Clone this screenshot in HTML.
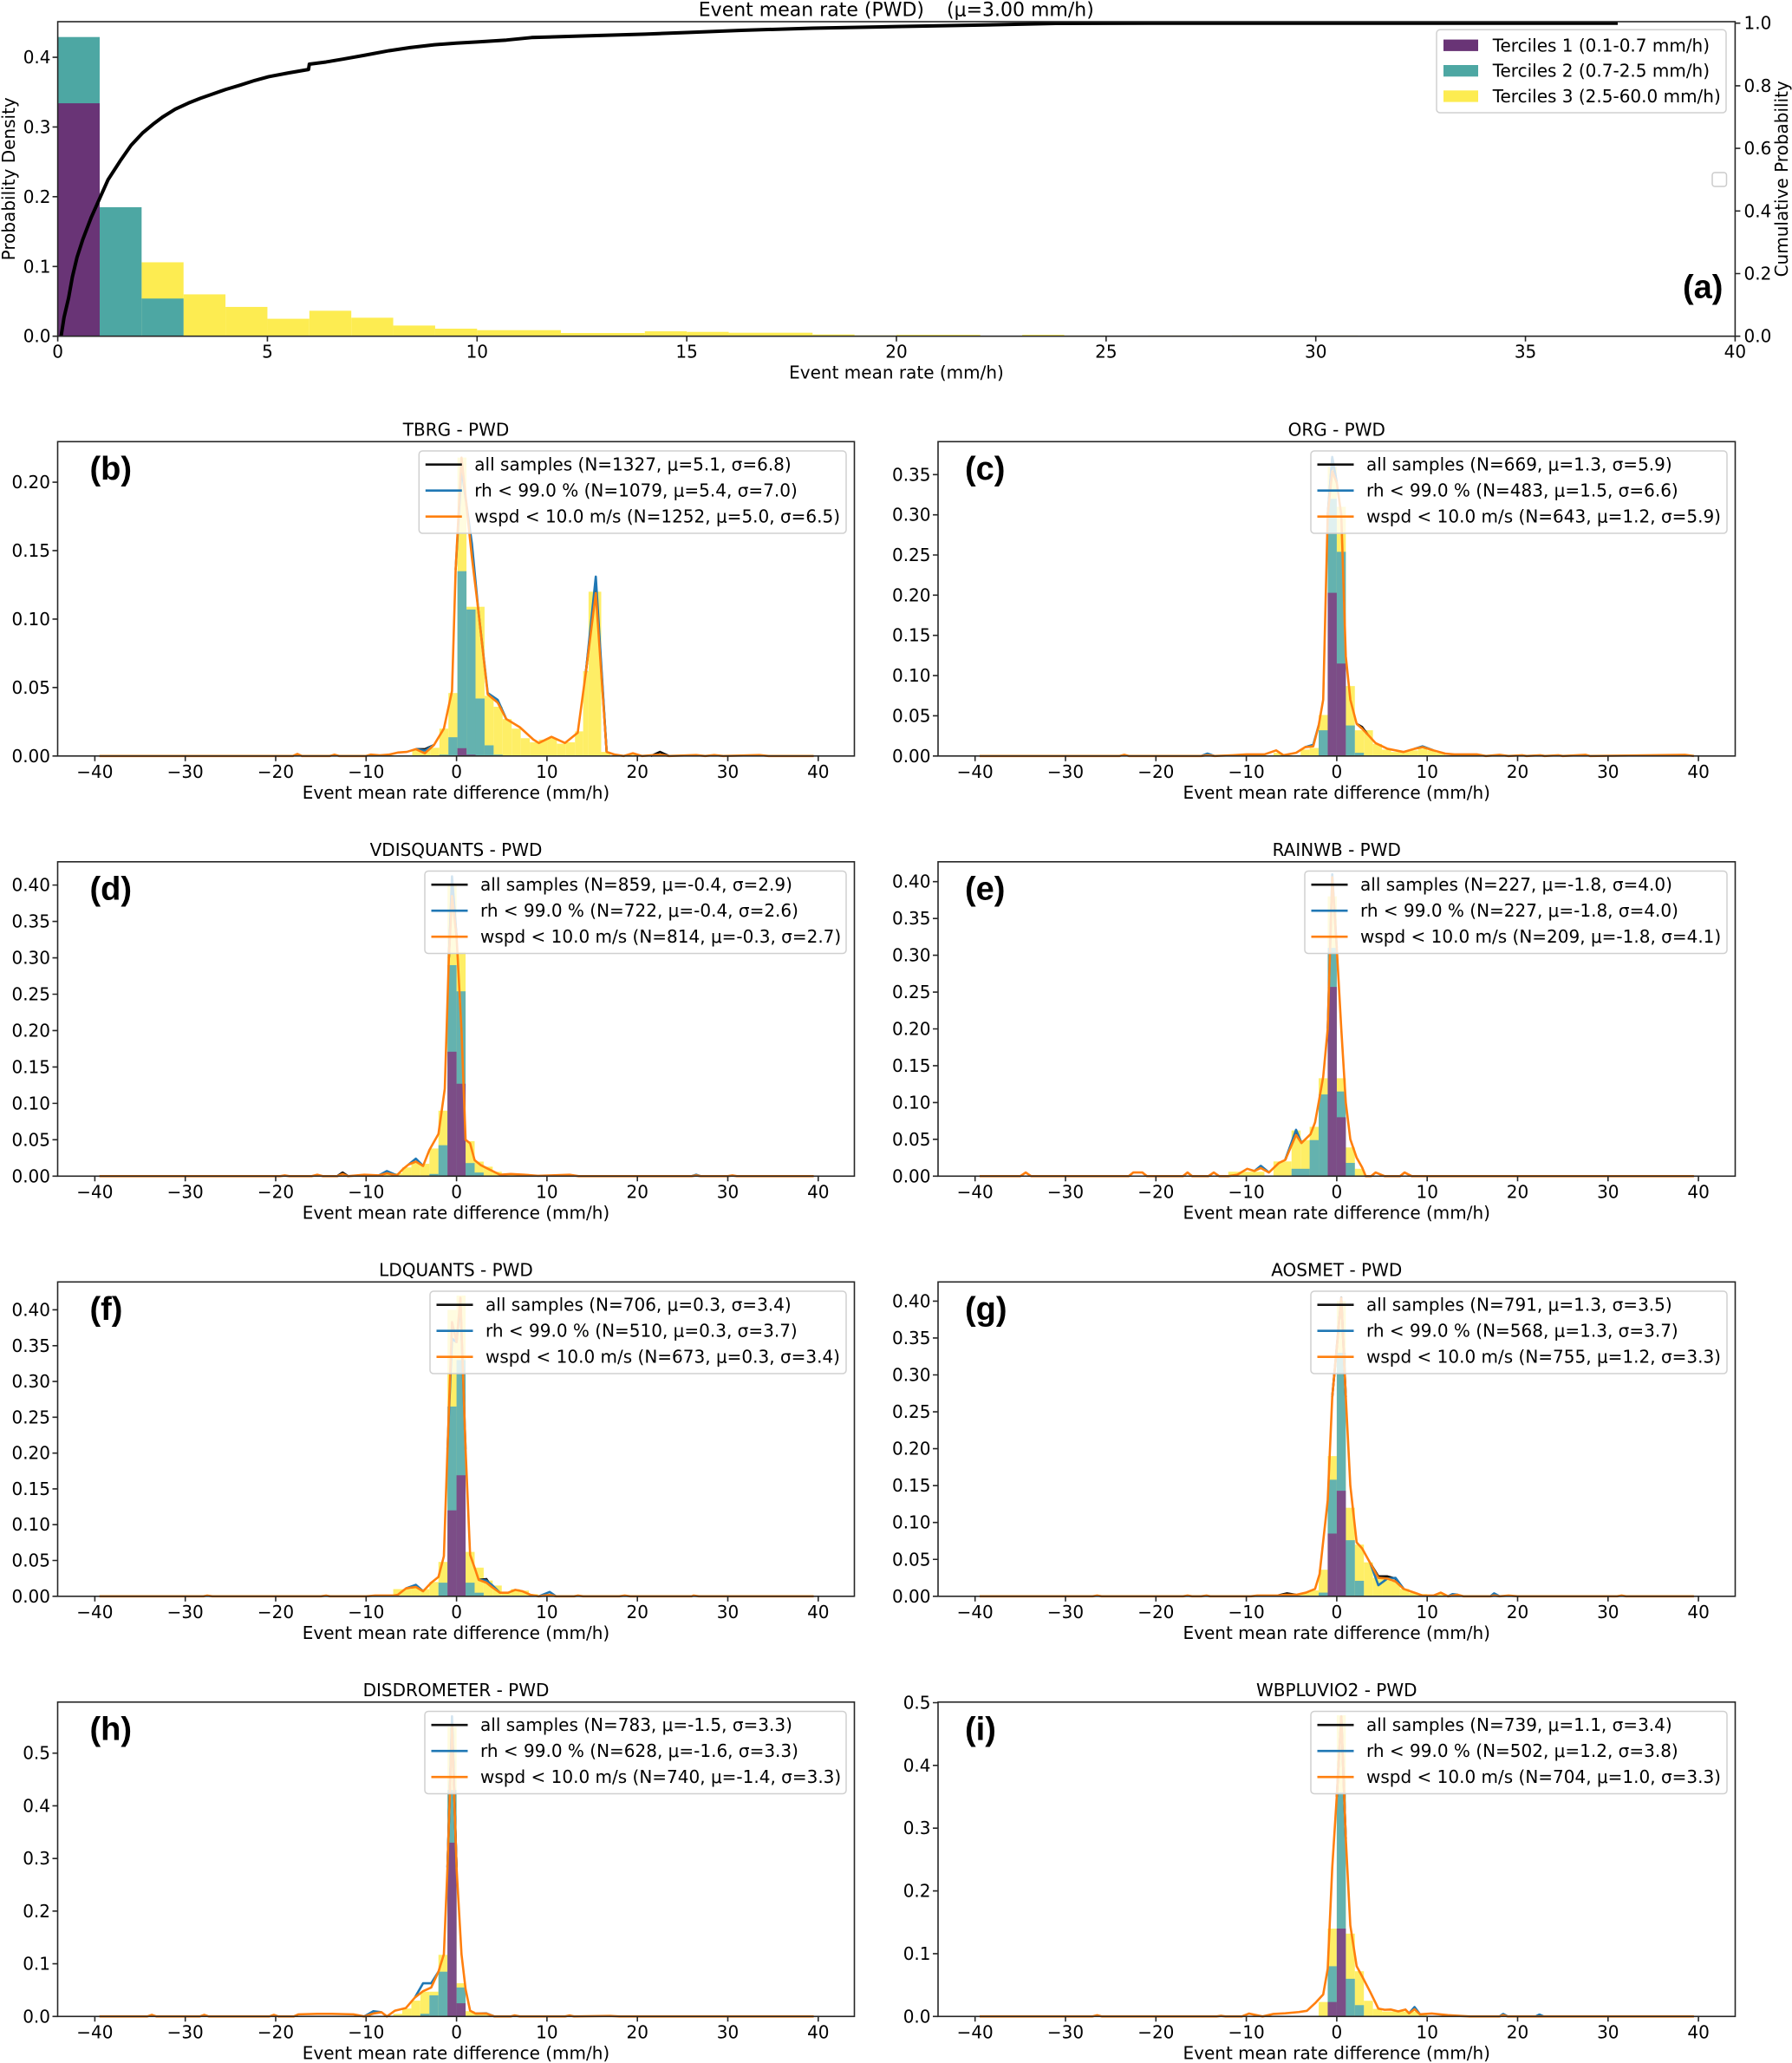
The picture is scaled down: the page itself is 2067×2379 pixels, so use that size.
<!DOCTYPE html>
<html><head><meta charset="utf-8"><title>Event mean rate</title><style>
html,body{margin:0;padding:0;background:#fff}
svg{display:block}
text{font-family:"DejaVu Sans","Liberation Sans",sans-serif;font-size:20px;fill:#000}
.tl{font-size:22px}
.lab{font-family:"Liberation Sans","DejaVu Sans",sans-serif;font-weight:bold;font-size:38px}
.ln{fill:none;vector-effect:non-scaling-stroke;stroke-width:2.6;stroke-linejoin:round}
.cdf{fill:none;vector-effect:non-scaling-stroke;stroke-width:4;stroke:#000;stroke-linejoin:round}
.sp{fill:none;stroke:#262626;stroke-width:1.6}
.tk{stroke:#262626;stroke-width:1.6;fill:none}
.y rect{fill:#FEEE66}.t rect{fill:#64B2AF}.p rect{fill:#7C4D87}
.Y rect{fill:#FDEC51}.T rect{fill:#4DA7A3}.P rect{fill:#693476}
.lg{fill:#fff;fill-opacity:0.8;stroke:#d0d0d0;stroke-width:1.5}
.e text,text.e{text-anchor:end}.m text,text.m{text-anchor:middle}
.k{stroke:#111}.b{stroke:#1f77b4}.o{stroke:#ff7f0e}
.lh{stroke-width:2.6}
</style></head><body>
<svg width="2067" height="2379" viewBox="0 0 2067 2379" xmlns="http://www.w3.org/2000/svg">

<!-- ================= (a) ================= -->
<g transform="translate(66.6,387.7) scale(48.37,-804.2)">
<g class="Y"><rect x="2" width="1" height=".106"/><rect x="3" width="1" height=".060"/><rect x="4" width="1" height=".042"/><rect x="5" width="1" height=".025"/><rect x="6" width="1" height=".0365"/><rect x="7" width="1" height=".0265"/><rect x="8" width="1" height=".0153"/><rect x="9" width="1" height=".0108"/><rect x="10" width="2" height=".0087"/><rect x="12" width="2" height=".0046"/><rect x="14" width="1" height=".007"/><rect x="15" width="1" height=".0062"/><rect x="16" width="2" height=".005"/><rect x="18" width="1" height=".0025"/><rect x="19" width="1" height=".0012"/><rect x="20" width="2" height=".002"/><rect x="23" width="1" height=".002"/><rect x="24" width="1" height=".001"/><rect x="26" width="1" height=".001"/><rect x="28" width="3" height=".001"/></g>
<g class="T"><rect x="0" width="1" height=".429"/><rect x="1" width="1" height=".185"/><rect x="2" width="1" height=".054"/></g>
<g class="P"><rect x="0" width="1" height=".334"/></g>
</g>
<g transform="translate(66.6,387.7) scale(48.37,-361)">
<polyline class="cdf" points="0.08,0 0.15,0.06 0.26,0.123 0.35,0.19 0.46,0.252 0.6,0.31 0.8,0.38 1,0.44 1.2,0.5 1.49,0.56 1.75,0.61 2.03,0.65 2.3,0.68 2.5,0.70 2.8,0.725 3.12,0.745 3.4,0.76 3.66,0.772 4,0.788 4.35,0.802 4.7,0.817 5.03,0.829 5.5,0.841 5.98,0.852 6,0.869 6.4,0.876 6.8,0.885 7.3,0.897 7.9,0.912 8.4,0.922 8.98,0.931 9.5,0.936 10,0.94 10.7,0.946 11.3,0.954 12.5,0.959 14,0.965 15,0.97 16.3,0.977 18,0.984 20,0.989 22,0.994 23.8,0.999 26,1 37.2,1"/>
</g>
<rect class="sp" x="66.6" y="25" width="1934.8" height="362.7"/>
<path class="tk" d="M66.6 387.7v6M308.45 387.7v6M550.3 387.7v6M792.15 387.7v6M1034 387.7v6M1275.85 387.7v6M1517.7 387.7v6M1759.55 387.7v6M2001.4 387.7v6M66.6 387.7h-6M66.6 307.28h-6M66.6 226.86h-6M66.6 146.44h-6M66.6 66.02h-6M2001.4 387.7h6M2001.4 315.5h6M2001.4 243.3h6M2001.4 171.1h6M2001.4 98.9h6M2001.4 26.7h6"/>
<g class="m" transform="translate(0,412.7)"><text x="66.6">0</text><text x="308.45">5</text><text x="550.3">10</text><text x="792.15">15</text><text x="1034">20</text><text x="1275.85">25</text><text x="1517.7">30</text><text x="1759.55">35</text><text x="2001.4">40</text></g>
<g class="e"><text x="58.5" y="394.7">0.0</text><text x="58.5" y="314.28">0.1</text><text x="58.5" y="233.86">0.2</text><text x="58.5" y="153.44">0.3</text><text x="58.5" y="73.02">0.4</text></g>
<g><text x="2011.5" y="394.7">0.0</text><text x="2011.5" y="322.5">0.2</text><text x="2011.5" y="250.3">0.4</text><text x="2011.5" y="178.1">0.6</text><text x="2011.5" y="105.9">0.8</text><text x="2011.5" y="33.7">1.0</text></g>
<text class="tl e" x="1066" y="18.3">Event mean rate (PWD)</text>
<text class="tl" x="1092" y="18.3">(μ=3.00 mm/h)</text>
<text class="m" x="1034" y="436.7">Event mean rate (mm/h)</text>
<text class="m" transform="translate(10,206.3) rotate(-90)" dominant-baseline="central">Probability Density</text>
<text class="m" transform="translate(2055,206.3) rotate(-90)" dominant-baseline="central">Cumulative Probability</text>
<rect class="lg" x="1657" y="34.3" width="334" height="95.7" rx="4"/>
<rect x="1665" y="45.6" width="40" height="13.3" fill="#693476"/>
<rect x="1665" y="75" width="40" height="13.3" fill="#4DA7A3"/>
<rect x="1665" y="104.3" width="40" height="13.3" fill="#FDEC51"/>
<text x="1721.7" y="59.3">Terciles 1 (0.1-0.7 mm/h)</text>
<text x="1721.7" y="88.7">Terciles 2 (0.7-2.5 mm/h)</text>
<text x="1721.7" y="118">Terciles 3 (2.5-60.0 mm/h)</text>
<rect x="1975" y="199" width="16.5" height="16" rx="3" fill="#fff" stroke="#cccccc" stroke-width="1.5"/>
<text class="lab" x="1941" y="343.7">(a)</text>

<!-- ================= (b) ================= -->
<g transform="translate(526.6,871.8) scale(10.43,-1578.8)">
<g class="y"><rect x="-4.9" width="1" height=".004"/><rect x="-3.9" width="1" height=".005"/><rect x="-2.9" width="1" height=".006"/><rect x="-1.9" width="1" height=".02"/><rect x="-0.9" width="1" height=".046"/><rect x="0.1" width="1" height=".218"/><rect x="1.1" width="1" height=".109"/><rect x="2.1" width="1" height=".109"/><rect x="3.1" width="1" height=".044"/><rect x="4.1" width="1" height=".036"/><rect x="5.1" width="1" height=".027"/><rect x="6.1" width="1" height=".02"/><rect x="7.1" width="1" height=".013"/><rect x="8.1" width="1" height=".01"/><rect x="9.1" width="1" height=".012"/><rect x="10.1" width="1" height=".013"/><rect x="11.1" width="1" height=".009"/><rect x="12.1" width="1" height=".01"/><rect x="13.1" width="0.9" height=".018"/><rect x="14" width="0.6" height=".062"/><rect x="14.6" width="1.4" height=".12"/><rect x="16" width="1" height=".003"/><rect x="19.1" width="1" height=".001"/></g>
<g class="t"><rect x="-1.9" width="1" height=".001"/><rect x="-0.9" width="1" height=".0137"/><rect x="0.1" width="1" height=".135"/><rect x="1.1" width="1" height=".107"/><rect x="2.1" width="1" height=".042"/><rect x="3.1" width="1" height=".0078"/><rect x="4.1" width="1" height=".001"/></g>
<g class="p"><rect x="0.1" width="1" height=".0057"/><rect x="1.1" width="1" height=".001"/></g>
<polyline class="ln k" points="-4.5,0.005 -3.5,0.005 -2.5,0.008"/>
<polyline class="ln k" points="21.5,0 22.5,0.003 23.5,0"/>
<polyline class="ln k" points="14.3,0.061 15.4,0.125 16.6,0.003"/>
<polyline class="ln b" points="-4.5,0.005 -3.5,0.004 -2.5,0.008"/>
<polyline class="ln b" points="-0.1,0.136 0.55,0.21 1.7,0.155 2.4,0.107 3.45,0.046 4.55,0.041 5.5,0.027"/>
<polyline class="ln b" points="14.3,0.061 15.4,0.131 16.6,0.003"/>
<polyline class="ln o" points="-39.5,0 -18.1,0 -17.6,0.0015 -17.1,0 -14,0 -13.5,0.001 -13,0 -10,0 -9.5,0.001 -8.5,0.0005 -7.5,0.001 -6.5,0.0025 -5.5,0.003 -4.5,0.005 -3.5,0.002 -2.5,0.008 -1.4,0.02 -0.5,0.0475 -0.1,0.136 0.55,0.218 1.7,0.145 2.4,0.107 3.45,0.045 4.55,0.039 5.5,0.027 7,0.021 8.5,0.012 9.1,0.0095 10.5,0.014 12,0.0095 13.4,0.017 14.3,0.061 15.4,0.119 16.6,0.003 17.5,0.001 18.5,0 19.5,0.002 20.5,0 22.5,0.001 23.5,0 26.5,0.0007 27.5,0 28.5,0.0007 29.5,0 33.5,0.0007 34.5,0 39.5,0"/>
</g>
<rect class="sp" x="66.5" y="509.3" width="919" height="362.5"/>
<path class="tk" d="M109.4 871.8v6M213.7 871.8v6M318 871.8v6M422.3 871.8v6M526.6 871.8v6M630.9 871.8v6M735.2 871.8v6M839.5 871.8v6M943.8 871.8v6M66.5 871.8h-6M66.5 792.86h-6M66.5 713.92h-6M66.5 634.98h-6M66.5 556.04h-6"/>
<g class="m" transform="translate(0,896.8)"><text x="109.4">−40</text><text x="213.7">−30</text><text x="318">−20</text><text x="422.3">−10</text><text x="526.6">0</text><text x="630.9">10</text><text x="735.2">20</text><text x="839.5">30</text><text x="943.8">40</text></g>
<g class="e"><text x="58" y="878.8">0.00</text><text x="58" y="799.86">0.05</text><text x="58" y="720.92">0.10</text><text x="58" y="641.98">0.15</text><text x="58" y="563.04">0.20</text></g>
<text class="m" x="526" y="502.5">TBRG - PWD</text>
<text class="m" x="526" y="920.8">Event mean rate difference (mm/h)</text>
<rect class="lg" x="483.3" y="520" width="492.7" height="95" rx="4"/>
<path class="lh k" d="M490.8 535.7h42"/><path class="lh b" d="M490.8 565.7h42"/><path class="lh o" d="M490.8 595.7h42"/>
<text x="547.3" y="542.7">all samples (N=1327, μ=5.1, σ=6.8)</text>
<text x="547.3" y="572.7">rh &lt; 99.0 % (N=1079, μ=5.4, σ=7.0)</text>
<text x="547.3" y="602.7">wspd &lt; 10.0 m/s (N=1252, μ=5.0, σ=6.5)</text>
<text class="lab" x="103.5" y="552.8">(b)</text>

<!-- ================= (c) ================= -->
<g transform="translate(1541.9,871.8) scale(10.43,-927.1)">
<g class="y"><rect x="-7" width="1" height=".004"/><rect x="-4" width="1" height=".008"/><rect x="-3" width="1" height=".01"/><rect x="-2" width="1" height=".051"/><rect x="-1" width="1" height=".36"/><rect x="0" width="1" height=".31"/><rect x="1" width="1" height=".087"/><rect x="2" width="1" height=".032"/><rect x="3" width="1" height=".032"/><rect x="4" width="1" height=".015"/><rect x="5" width="1" height=".008"/><rect x="6" width="1" height=".005"/><rect x="7" width="1" height=".006"/><rect x="8" width="1" height=".007"/><rect x="9" width="1" height=".009"/><rect x="10" width="1" height=".007"/><rect x="11" width="1" height=".004"/></g>
<g class="t"><rect x="-2" width="1" height=".032"/><rect x="-1" width="1" height=".32"/><rect x="0" width="1" height=".254"/><rect x="1" width="1" height=".038"/><rect x="2" width="1" height=".004"/></g>
<g class="p"><rect x="-1" width="1" height=".203"/><rect x="0" width="1" height=".115"/></g>
<polyline class="ln k" points="-1,0.30 -0.5,0.37 0,0.34"/>
<polyline class="ln k" points="2.2,0.04 2.8,0.036 3.4,0.027"/>
<polyline class="ln b" points="-15,0 -14.3,0.003 -13.5,0"/>
<polyline class="ln b" points="-3.5,0.011 -2.6,0.014 -2,0.038"/>
<polyline class="ln b" points="-1,0.30 -0.5,0.372 0,0.34"/>
<polyline class="ln b" points="8.6,0.009 9.5,0.012 10.7,0.007"/>
<polyline class="ln o" points="-39.5,0 -24,0 -23.5,0.0015 -23,0 -15,0 -14.3,0.001 -13.5,0 -11.5,0.001 -10,0.002 -8,0.002 -6.7,0.007 -5.9,0.001 -4.5,0.004 -3.5,0.011 -2.6,0.012 -2,0.038 -1.5,0.07 -1,0.30 -0.5,0.354 0,0.34 0.5,0.30 1,0.124 1.5,0.07 2.2,0.04 2.8,0.034 3.4,0.027 4.3,0.016 5.6,0.009 7.4,0.005 8.6,0.009 9.5,0.011 10.7,0.007 12,0.003 13,0.002 15.5,0.002 16.5,0 18,0.0015 19,0 20.5,0.001 21,0 22.5,0.001 23,0 24.5,0.001 25,0 27.5,0.0015 28,0 38.5,0.0015 39.5,0"/>
</g>
<rect class="sp" x="1082" y="509.3" width="919.5" height="362.5"/>
<path class="tk" d="M1124.7 871.8v6M1229 871.8v6M1333.3 871.8v6M1437.6 871.8v6M1541.9 871.8v6M1646.2 871.8v6M1750.5 871.8v6M1854.8 871.8v6M1959.1 871.8v6M1082 871.8h-6M1082 825.44h-6M1082 779.08h-6M1082 732.72h-6M1082 686.36h-6M1082 640h-6M1082 593.64h-6M1082 547.28h-6"/>
<g class="m" transform="translate(0,896.8)"><text x="1124.7">−40</text><text x="1229">−30</text><text x="1333.3">−20</text><text x="1437.6">−10</text><text x="1541.9">0</text><text x="1646.2">10</text><text x="1750.5">20</text><text x="1854.8">30</text><text x="1959.1">40</text></g>
<g class="e"><text x="1073.5" y="878.8">0.00</text><text x="1073.5" y="832.44">0.05</text><text x="1073.5" y="786.08">0.10</text><text x="1073.5" y="739.72">0.15</text><text x="1073.5" y="693.36">0.20</text><text x="1073.5" y="647">0.25</text><text x="1073.5" y="600.64">0.30</text><text x="1073.5" y="554.28">0.35</text></g>
<text class="m" x="1541.75" y="502.5">ORG - PWD</text>
<text class="m" x="1541.75" y="920.8">Event mean rate difference (mm/h)</text>
<rect class="lg" x="1512" y="520" width="480" height="95" rx="4"/>
<path class="lh k" d="M1519.5 535.7h42"/><path class="lh b" d="M1519.5 565.7h42"/><path class="lh o" d="M1519.5 595.7h42"/>
<text x="1576" y="542.7">all samples (N=669, μ=1.3, σ=5.9)</text>
<text x="1576" y="572.7">rh &lt; 99.0 % (N=483, μ=1.5, σ=6.6)</text>
<text x="1576" y="602.7">wspd &lt; 10.0 m/s (N=643, μ=1.2, σ=5.9)</text>
<text class="lab" x="1113" y="552.8">(c)</text>

<!-- ================= (d) ================= -->
<g transform="translate(526.6,1356.3) scale(10.43,-839.1)">
<g class="y"><rect x="-8" width="1" height=".004"/><rect x="-7" width="1" height=".004"/><rect x="-6" width="1" height=".012"/><rect x="-5" width="1" height=".02"/><rect x="-4" width="1" height=".017"/><rect x="-3" width="1" height=".038"/><rect x="-2" width="1" height=".09"/><rect x="-1" width="1" height=".40"/><rect x="0" width="1" height=".308"/><rect x="1" width="1" height=".048"/><rect x="2" width="1" height=".02"/><rect x="3" width="1" height=".013"/><rect x="4" width="1" height=".006"/><rect x="5" width="1" height=".003"/><rect x="6" width="2" height=".003"/></g>
<g class="t"><rect x="-3" width="1" height=".003"/><rect x="-2" width="1" height=".0425"/><rect x="-1" width="1" height=".29"/><rect x="0" width="1" height=".254"/><rect x="1" width="1" height=".018"/><rect x="2" width="1" height=".005"/></g>
<g class="p"><rect x="-1" width="1" height=".171"/><rect x="0" width="1" height=".127"/></g>
<polyline class="ln k" points="-0.85,0.3 -0.5,0.40 0,0.33"/>
<polyline class="ln k" points="-13.2,0 -12.6,0.005 -12,0"/>
<polyline class="ln b" points="-0.85,0.3 -0.5,0.412 0,0.33"/>
<polyline class="ln b" points="-5.3,0.016 -4.5,0.024 -3.7,0.014"/>
<polyline class="ln b" points="-8.6,0.001 -7.7,0.007 -6.6,0.001"/>
<polyline class="ln b" points="26,0 26.5,0.002 27,0"/>
<polyline class="ln o" points="-39.5,0 -19.5,0 -19,0.001 -18.5,0 -16,0 -15.4,0.002 -14.8,0 -13.2,0 -12.6,0.003 -12,0 -10.2,0.002 -8.6,0.001 -7.7,0.004 -6.6,0.001 -5.9,0.01 -5.3,0.016 -4.5,0.02 -3.7,0.014 -3,0.036 -2,0.058 -1.3,0.12 -0.85,0.3 -0.5,0.385 0,0.33 0.55,0.2 1,0.05 1.5,0.045 2,0.022 2.7,0.015 3.5,0.01 4.8,0.002 6,0.003 7.5,0.002 9,0.0005 10.5,0.001 12.5,0.002 13.5,0 26,0 26.5,0.001 27,0 30,0 30.5,0.001 31,0 39.5,0"/>
</g>
<rect class="sp" x="66.5" y="993.8" width="919" height="362.5"/>
<path class="tk" d="M109.4 1356.3v6M213.7 1356.3v6M318 1356.3v6M422.3 1356.3v6M526.6 1356.3v6M630.9 1356.3v6M735.2 1356.3v6M839.5 1356.3v6M943.8 1356.3v6M66.5 1356.3h-6M66.5 1314.34h-6M66.5 1272.38h-6M66.5 1230.42h-6M66.5 1188.46h-6M66.5 1146.5h-6M66.5 1104.54h-6M66.5 1062.58h-6M66.5 1020.62h-6"/>
<g class="m" transform="translate(0,1381.3)"><text x="109.4">−40</text><text x="213.7">−30</text><text x="318">−20</text><text x="422.3">−10</text><text x="526.6">0</text><text x="630.9">10</text><text x="735.2">20</text><text x="839.5">30</text><text x="943.8">40</text></g>
<g class="e"><text x="58" y="1363.3">0.00</text><text x="58" y="1321.34">0.05</text><text x="58" y="1279.38">0.10</text><text x="58" y="1237.42">0.15</text><text x="58" y="1195.46">0.20</text><text x="58" y="1153.5">0.25</text><text x="58" y="1111.54">0.30</text><text x="58" y="1069.58">0.35</text><text x="58" y="1027.62">0.40</text></g>
<text class="m" x="526" y="987">VDISQUANTS - PWD</text>
<text class="m" x="526" y="1405.3">Event mean rate difference (mm/h)</text>
<rect class="lg" x="490" y="1004.5" width="486" height="95" rx="4"/>
<path class="lh k" d="M497.5 1020.2h42"/><path class="lh b" d="M497.5 1050.2h42"/><path class="lh o" d="M497.5 1080.2h42"/>
<text x="554" y="1027.2">all samples (N=859, μ=-0.4, σ=2.9)</text>
<text x="554" y="1057.2">rh &lt; 99.0 % (N=722, μ=-0.4, σ=2.6)</text>
<text x="554" y="1087.2">wspd &lt; 10.0 m/s (N=814, μ=-0.3, σ=2.7)</text>
<text class="lab" x="103.5" y="1037.3">(d)</text>

<!-- ================= (e) ================= -->
<g transform="translate(1541.9,1356.3) scale(10.43,-849)">
<g class="y"><rect x="-12" width="4" height=".006"/><rect x="-7" width="2" height=".02"/><rect x="-5" width="1" height=".062"/><rect x="-4" width="1" height=".049"/><rect x="-3" width="1" height=".067"/><rect x="-2" width="1" height=".133"/><rect x="-1" width="1" height=".38"/><rect x="0" width="1" height=".133"/><rect x="1" width="1" height=".039"/><rect x="2" width="1" height=".01"/></g>
<g class="t"><rect x="-5" width="2" height=".01"/><rect x="-3" width="1" height=".049"/><rect x="-2" width="1" height=".111"/><rect x="-1" width="1" height=".31"/><rect x="0" width="1" height=".115"/><rect x="1" width="1" height=".018"/></g>
<g class="p"><rect x="-1" width="1" height=".257"/><rect x="0" width="1" height=".08"/></g>
<polyline class="ln k" points="-5.7,0.022 -4.5,0.06 -3.9,0.045"/>
<polyline class="ln b" points="-5.7,0.022 -4.5,0.063 -3.9,0.045"/>
<polyline class="ln b" points="-9.1,0.007 -8.4,0.014 -7.5,0.005"/>
<polyline class="ln b" points="-1,0.2 -0.5,0.41 0,0.31"/>
<polyline class="ln o" points="-39.5,0 -35,0 -34.4,0.005 -33.8,0 -23,0 -22.5,0.005 -21.5,0.005 -21,0 -17,0 -16.5,0.005 -16,0 -14.2,0 -13.6,0.005 -13,0 -12,0 -11,0.002 -9.9,0.01 -9.1,0.007 -8.4,0.011 -7.5,0.005 -6.4,0.018 -5.7,0.022 -4.5,0.056 -3.9,0.045 -2.9,0.057 -2.4,0.073 -2,0.1 -1.5,0.135 -1,0.2 -0.5,0.406 0,0.31 0.5,0.2 1,0.1 1.5,0.05 2.2,0.025 2.8,0.012 3.2,0 3.8,0 4.3,0.005 5.3,0 7,0 7.5,0.005 8.3,0 39.5,0"/>
</g>
<rect class="sp" x="1082" y="993.8" width="919.5" height="362.5"/>
<path class="tk" d="M1124.7 1356.3v6M1229 1356.3v6M1333.3 1356.3v6M1437.6 1356.3v6M1541.9 1356.3v6M1646.2 1356.3v6M1750.5 1356.3v6M1854.8 1356.3v6M1959.1 1356.3v6M1082 1356.3h-6M1082 1313.85h-6M1082 1271.4h-6M1082 1228.95h-6M1082 1186.5h-6M1082 1144.05h-6M1082 1101.6h-6M1082 1059.15h-6M1082 1016.7h-6"/>
<g class="m" transform="translate(0,1381.3)"><text x="1124.7">−40</text><text x="1229">−30</text><text x="1333.3">−20</text><text x="1437.6">−10</text><text x="1541.9">0</text><text x="1646.2">10</text><text x="1750.5">20</text><text x="1854.8">30</text><text x="1959.1">40</text></g>
<g class="e"><text x="1073.5" y="1363.3">0.00</text><text x="1073.5" y="1320.85">0.05</text><text x="1073.5" y="1278.4">0.10</text><text x="1073.5" y="1235.95">0.15</text><text x="1073.5" y="1193.5">0.20</text><text x="1073.5" y="1151.05">0.25</text><text x="1073.5" y="1108.6">0.30</text><text x="1073.5" y="1066.15">0.35</text><text x="1073.5" y="1023.7">0.40</text></g>
<text class="m" x="1541.75" y="987">RAINWB - PWD</text>
<text class="m" x="1541.75" y="1405.3">Event mean rate difference (mm/h)</text>
<rect class="lg" x="1505" y="1004.5" width="487" height="95" rx="4"/>
<path class="lh k" d="M1512.5 1020.2h42"/><path class="lh b" d="M1512.5 1050.2h42"/><path class="lh o" d="M1512.5 1080.2h42"/>
<text x="1569" y="1027.2">all samples (N=227, μ=-1.8, σ=4.0)</text>
<text x="1569" y="1057.2">rh &lt; 99.0 % (N=227, μ=-1.8, σ=4.0)</text>
<text x="1569" y="1087.2">wspd &lt; 10.0 m/s (N=209, μ=-1.8, σ=4.1)</text>
<text class="lab" x="1113" y="1037.3">(e)</text>

<!-- ================= (f) ================= -->
<g transform="translate(526.6,1840.8) scale(10.43,-825.7)">
<g class="y"><rect x="-7" width="2" height=".01"/><rect x="-5" width="1" height=".013"/><rect x="-4" width="1" height=".01"/><rect x="-3" width="1" height=".02"/><rect x="-2" width="1" height=".048"/><rect x="-1" width="1" height=".40"/><rect x="0" width="1" height=".42"/><rect x="1" width="1" height=".062"/><rect x="2" width="1" height=".04"/><rect x="3" width="1" height=".022"/><rect x="4" width="1" height=".015"/><rect x="5" width="1" height=".006"/><rect x="6" width="1" height=".01"/><rect x="7" width="1" height=".008"/><rect x="8" width="1" height=".003"/></g>
<g class="t"><rect x="-2" width="1" height=".019"/><rect x="-1" width="1" height=".265"/><rect x="0" width="1" height=".33"/><rect x="1" width="1" height=".019"/><rect x="2" width="1" height=".005"/></g>
<g class="p"><rect x="-1" width="1" height=".12"/><rect x="0" width="1" height=".169"/></g>
<polyline class="ln k" points="2.45,0.023 3.3,0.024 3.9,0.013"/>
<polyline class="ln b" points="-5.6,0.011 -4.5,0.016 -3.7,0.007"/>
<polyline class="ln b" points="2.45,0.023 3.3,0.022 3.9,0.016 4.8,0.005"/>
<polyline class="ln b" points="9.1,0 10.3,0.006 11,0"/>
<polyline class="ln b" points="-1,0.205 -0.5,0.36 0,0.355 0.43,0.41 1,0.205"/>
<polyline class="ln o" points="-39.5,0 -28,0 -27.6,0.001 -27,0 -15,0 -14.4,0.001 -14,0 -10,0 -9,0.001 -7,0.001 -6.5,0.002 -5.6,0.011 -4.5,0.013 -3.7,0.007 -2.8,0.019 -2,0.027 -1.4,0.056 -1,0.205 -0.5,0.383 0,0.355 0.43,0.417 1,0.205 1.5,0.058 2,0.04 2.45,0.023 3.3,0.019 3.9,0.013 4.8,0.005 5.7,0.005 6.5,0.009 7.3,0.007 8.2,0.002 9.1,0 10.3,0.002 11,0 13,0 13.4,0.001 14,0 18,0 18.6,0.001 19.2,0 26,0 26.2,0.001 26.8,0 39.5,0"/>
</g>
<rect class="sp" x="66.5" y="1478.3" width="919" height="362.5"/>
<path class="tk" d="M109.4 1840.8v6M213.7 1840.8v6M318 1840.8v6M422.3 1840.8v6M526.6 1840.8v6M630.9 1840.8v6M735.2 1840.8v6M839.5 1840.8v6M943.8 1840.8v6M66.5 1840.8h-6M66.5 1799.51h-6M66.5 1758.22h-6M66.5 1716.93h-6M66.5 1675.64h-6M66.5 1634.35h-6M66.5 1593.06h-6M66.5 1551.77h-6M66.5 1510.48h-6"/>
<g class="m" transform="translate(0,1865.8)"><text x="109.4">−40</text><text x="213.7">−30</text><text x="318">−20</text><text x="422.3">−10</text><text x="526.6">0</text><text x="630.9">10</text><text x="735.2">20</text><text x="839.5">30</text><text x="943.8">40</text></g>
<g class="e"><text x="58" y="1847.8">0.00</text><text x="58" y="1806.51">0.05</text><text x="58" y="1765.22">0.10</text><text x="58" y="1723.93">0.15</text><text x="58" y="1682.64">0.20</text><text x="58" y="1641.35">0.25</text><text x="58" y="1600.06">0.30</text><text x="58" y="1558.77">0.35</text><text x="58" y="1517.48">0.40</text></g>
<text class="m" x="526" y="1471.5">LDQUANTS - PWD</text>
<text class="m" x="526" y="1889.8">Event mean rate difference (mm/h)</text>
<rect class="lg" x="496" y="1489" width="480" height="95" rx="4"/>
<path class="lh k" d="M503.5 1504.7h42"/><path class="lh b" d="M503.5 1534.7h42"/><path class="lh o" d="M503.5 1564.7h42"/>
<text x="560" y="1511.7">all samples (N=706, μ=0.3, σ=3.4)</text>
<text x="560" y="1541.7">rh &lt; 99.0 % (N=510, μ=0.3, σ=3.7)</text>
<text x="560" y="1571.7">wspd &lt; 10.0 m/s (N=673, μ=0.3, σ=3.4)</text>
<text class="lab" x="103.5" y="1521.8">(f)</text>

<!-- ================= (g) ================= -->
<g transform="translate(1541.9,1840.8) scale(10.43,-850.9)">
<g class="y"><rect x="-5" width="1" height=".003"/><rect x="-4" width="1" height=".005"/><rect x="-3" width="1" height=".008"/><rect x="-2" width="1" height=".036"/><rect x="-1" width="1" height=".19"/><rect x="0" width="1" height=".40"/><rect x="1" width="1" height=".12"/><rect x="2" width="1" height=".07"/><rect x="3" width="1" height=".046"/><rect x="4" width="1" height=".025"/><rect x="5" width="1" height=".025"/><rect x="6" width="1" height=".02"/><rect x="7" width="1" height=".01"/><rect x="8" width="1" height=".005"/><rect x="9" width="1" height=".003"/><rect x="11" width="1" height=".004"/></g>
<g class="t"><rect x="-2" width="1" height=".005"/><rect x="-1" width="1" height=".158"/><rect x="0" width="1" height=".33"/><rect x="1" width="1" height=".076"/><rect x="2" width="1" height=".021"/></g>
<g class="p"><rect x="-1" width="1" height=".085"/><rect x="0" width="1" height=".143"/></g>
<polyline class="ln k" points="-6.5,0.001 -5.5,0.004 -4.5,0.002"/>
<polyline class="ln k" points="3.7,0.045 4.6,0.027 5.6,0.027 6.5,0.024 7.4,0.01"/>
<polyline class="ln k" points="-0.5,0.27 0.5,0.405 1,0.27"/>
<polyline class="ln b" points="3.7,0.045 4.6,0.015 5.6,0.024 6.5,0.025 7.4,0.01"/>
<polyline class="ln b" points="12.3,0 12.8,0.003 13.4,0.002"/>
<polyline class="ln b" points="17,0 17.4,0.004 18,0"/>
<polyline class="ln o" points="-39.5,0 -27,0 -26.5,0.001 -26,0 -17,0 -16.5,0.001 -16,0 -15,0 -14.4,0.001 -14,0 -9.5,0 -8.8,0.001 -6.5,0.001 -5.7,0.002 -4.5,0.002 -3.4,0.005 -2.4,0.01 -1.9,0.03 -1,0.13 -0.5,0.27 0.5,0.404 1,0.27 1.5,0.15 2.2,0.073 2.8,0.065 3.7,0.045 4.6,0.025 5.6,0.024 6.5,0.02 7.4,0.01 8.8,0.004 9.5,0.001 10.7,0.001 11.5,0.005 12.3,0 13.4,0.002 14,0 17,0 17.4,0.001 18,0 19,0.001 20,0 31,0 31.5,0.001 32,0 39.5,0"/>
</g>
<rect class="sp" x="1082" y="1478.3" width="919.5" height="362.5"/>
<path class="tk" d="M1124.7 1840.8v6M1229 1840.8v6M1333.3 1840.8v6M1437.6 1840.8v6M1541.9 1840.8v6M1646.2 1840.8v6M1750.5 1840.8v6M1854.8 1840.8v6M1959.1 1840.8v6M1082 1840.8h-6M1082 1798.25h-6M1082 1755.7h-6M1082 1713.15h-6M1082 1670.6h-6M1082 1628.05h-6M1082 1585.5h-6M1082 1542.95h-6M1082 1500.4h-6"/>
<g class="m" transform="translate(0,1865.8)"><text x="1124.7">−40</text><text x="1229">−30</text><text x="1333.3">−20</text><text x="1437.6">−10</text><text x="1541.9">0</text><text x="1646.2">10</text><text x="1750.5">20</text><text x="1854.8">30</text><text x="1959.1">40</text></g>
<g class="e"><text x="1073.5" y="1847.8">0.00</text><text x="1073.5" y="1805.25">0.05</text><text x="1073.5" y="1762.7">0.10</text><text x="1073.5" y="1720.15">0.15</text><text x="1073.5" y="1677.6">0.20</text><text x="1073.5" y="1635.05">0.25</text><text x="1073.5" y="1592.5">0.30</text><text x="1073.5" y="1549.95">0.35</text><text x="1073.5" y="1507.4">0.40</text></g>
<text class="m" x="1541.75" y="1471.5">AOSMET - PWD</text>
<text class="m" x="1541.75" y="1889.8">Event mean rate difference (mm/h)</text>
<rect class="lg" x="1512" y="1489" width="480" height="95" rx="4"/>
<path class="lh k" d="M1519.5 1504.7h42"/><path class="lh b" d="M1519.5 1534.7h42"/><path class="lh o" d="M1519.5 1564.7h42"/>
<text x="1576" y="1511.7">all samples (N=791, μ=1.3, σ=3.5)</text>
<text x="1576" y="1541.7">rh &lt; 99.0 % (N=568, μ=1.3, σ=3.7)</text>
<text x="1576" y="1571.7">wspd &lt; 10.0 m/s (N=755, μ=1.2, σ=3.3)</text>
<text class="lab" x="1113" y="1521.8">(g)</text>

<!-- ================= (h) ================= -->
<g transform="translate(526.6,2325.3) scale(10.43,-607.2)">
<g class="y"><rect x="-7" width="1" height=".005"/><rect x="-6" width="1" height=".015"/><rect x="-5" width="1" height=".03"/><rect x="-4" width="1" height=".047"/><rect x="-3" width="1" height=".047"/><rect x="-2" width="1" height=".117"/><rect x="-1" width="1" height=".55"/><rect x="0" width="1" height=".063"/><rect x="1" width="1" height=".01"/><rect x="2" width="1" height=".005"/><rect x="3" width="1" height=".004"/></g>
<g class="t"><rect x="-4" width="1" height=".005"/><rect x="-3" width="1" height=".04"/><rect x="-2" width="1" height=".085"/><rect x="-1" width="1" height=".43"/><rect x="0" width="1" height=".055"/></g>
<g class="p"><rect x="-1" width="1" height=".33"/><rect x="0" width="1" height=".025"/></g>
<polyline class="ln k" points="-1,0.283 -0.5,0.56 0,0.283"/>
<polyline class="ln b" points="-4.6,0.036 -3.7,0.063 -2.8,0.063 -2,0.085"/>
<polyline class="ln b" points="-10.2,0 -9.2,0.01 -8.3,0.008"/>
<polyline class="ln b" points="-1,0.283 -0.5,0.57 0,0.283"/>
<polyline class="ln b" points="2.1,0.0055 3.3,0.006 4.2,0"/>
<polyline class="ln o" points="-39.5,0 -34.2,0 -33.7,0.003 -33.2,0 -28.4,0 -27.9,0.003 -27.4,0 -20.7,0 -20.2,0.003 -19.7,0 -18,0 -17.5,0.004 -15.4,0.005 -13.8,0.005 -11.4,0.004 -10.2,0 -9.2,0.0055 -8.3,0.008 -7.7,0 -6.8,0.011 -5.6,0.016 -4.6,0.036 -3.7,0.048 -2.8,0.055 -2,0.085 -1.4,0.118 -1,0.283 -0.5,0.55 0,0.283 0.55,0.118 1,0.052 1.5,0.011 2.1,0.0055 3.3,0.0055 4.2,0 6,0 6.4,0.002 7,0 12,0 12.5,0.002 13,0 17,0.001 18,0 39.5,0"/>
</g>
<rect class="sp" x="66.5" y="1962.8" width="919" height="362.5"/>
<path class="tk" d="M109.4 2325.3v6M213.7 2325.3v6M318 2325.3v6M422.3 2325.3v6M526.6 2325.3v6M630.9 2325.3v6M735.2 2325.3v6M839.5 2325.3v6M943.8 2325.3v6M66.5 2325.3h-6M66.5 2264.58h-6M66.5 2203.86h-6M66.5 2143.14h-6M66.5 2082.42h-6M66.5 2021.7h-6"/>
<g class="m" transform="translate(0,2350.3)"><text x="109.4">−40</text><text x="213.7">−30</text><text x="318">−20</text><text x="422.3">−10</text><text x="526.6">0</text><text x="630.9">10</text><text x="735.2">20</text><text x="839.5">30</text><text x="943.8">40</text></g>
<g class="e"><text x="58" y="2332.3">0.0</text><text x="58" y="2271.58">0.1</text><text x="58" y="2210.86">0.2</text><text x="58" y="2150.14">0.3</text><text x="58" y="2089.42">0.4</text><text x="58" y="2028.7">0.5</text></g>
<text class="m" x="526" y="1956">DISDROMETER - PWD</text>
<text class="m" x="526" y="2374.3">Event mean rate difference (mm/h)</text>
<rect class="lg" x="490" y="1973.5" width="486" height="95" rx="4"/>
<path class="lh k" d="M497.5 1989.2h42"/><path class="lh b" d="M497.5 2019.2h42"/><path class="lh o" d="M497.5 2049.2h42"/>
<text x="554" y="1996.2">all samples (N=783, μ=-1.5, σ=3.3)</text>
<text x="554" y="2026.2">rh &lt; 99.0 % (N=628, μ=-1.6, σ=3.3)</text>
<text x="554" y="2056.2">wspd &lt; 10.0 m/s (N=740, μ=-1.4, σ=3.3)</text>
<text class="lab" x="103.5" y="2006.3">(h)</text>

<!-- ================= (i) ================= -->
<g transform="translate(1541.9,2325.3) scale(10.43,-723.6)">
<g class="y"><rect x="-2" width="1" height=".023"/><rect x="-1" width="1" height=".14"/><rect x="0" width="1" height=".48"/><rect x="1" width="1" height=".132"/><rect x="2" width="1" height=".072"/><rect x="3" width="1" height=".025"/><rect x="4" width="1" height=".012"/><rect x="5" width="4" height=".008"/><rect x="9" width="1" height=".004"/></g>
<g class="t"><rect x="-1" width="1" height=".08"/><rect x="0" width="1" height=".357"/><rect x="1" width="1" height=".06"/><rect x="2" width="1" height=".018"/></g>
<g class="p"><rect x="-1" width="1" height=".023"/><rect x="0" width="1" height=".14"/></g>
<polyline class="ln k" points="0,0.35 0.5,0.478 1,0.283"/>
<polyline class="ln b" points="8,0.005 8.6,0.015 9.2,0.0035"/>
<polyline class="ln b" points="18,0 18.4,0.004 18.9,0"/>
<polyline class="ln b" points="22,0 22.4,0.003 22.9,0"/>
<polyline class="ln o" points="-39.5,0 -27,0 -26.5,0.002 -26,0 -13.3,0 -12.8,0.001 -12.3,0 -10.5,0 -9.7,0.0046 -8.2,0 -7,0.004 -5.7,0.005 -4.2,0.007 -3.3,0.009 -2.4,0.021 -1.5,0.035 -1,0.076 -0.5,0.237 0,0.35 0.5,0.478 1,0.283 1.5,0.145 2.2,0.08 2.8,0.064 3.7,0.039 4.6,0.0125 5.3,0.0106 6,0.011 6.8,0.008 7.6,0.011 8,0.005 8.6,0.0115 9.2,0.0035 10.5,0.0046 12.3,0.002 14.7,0 18,0 18.4,0.002 18.9,0 39.5,0"/>
</g>
<rect class="sp" x="1082" y="1962.8" width="919.5" height="362.5"/>
<path class="tk" d="M1124.7 2325.3v6M1229 2325.3v6M1333.3 2325.3v6M1437.6 2325.3v6M1541.9 2325.3v6M1646.2 2325.3v6M1750.5 2325.3v6M1854.8 2325.3v6M1959.1 2325.3v6M1082 2325.3h-6M1082 2252.94h-6M1082 2180.58h-6M1082 2108.22h-6M1082 2035.86h-6M1082 1963.5h-6"/>
<g class="m" transform="translate(0,2350.3)"><text x="1124.7">−40</text><text x="1229">−30</text><text x="1333.3">−20</text><text x="1437.6">−10</text><text x="1541.9">0</text><text x="1646.2">10</text><text x="1750.5">20</text><text x="1854.8">30</text><text x="1959.1">40</text></g>
<g class="e"><text x="1073.5" y="2332.3">0.0</text><text x="1073.5" y="2259.94">0.1</text><text x="1073.5" y="2187.58">0.2</text><text x="1073.5" y="2115.22">0.3</text><text x="1073.5" y="2042.86">0.4</text><text x="1073.5" y="1970.5">0.5</text></g>
<text class="m" x="1541.75" y="1956">WBPLUVIO2 - PWD</text>
<text class="m" x="1541.75" y="2374.3">Event mean rate difference (mm/h)</text>
<rect class="lg" x="1512" y="1973.5" width="480" height="95" rx="4"/>
<path class="lh k" d="M1519.5 1989.2h42"/><path class="lh b" d="M1519.5 2019.2h42"/><path class="lh o" d="M1519.5 2049.2h42"/>
<text x="1576" y="1996.2">all samples (N=739, μ=1.1, σ=3.4)</text>
<text x="1576" y="2026.2">rh &lt; 99.0 % (N=502, μ=1.2, σ=3.8)</text>
<text x="1576" y="2056.2">wspd &lt; 10.0 m/s (N=704, μ=1.0, σ=3.3)</text>
<text class="lab" x="1113" y="2006.3">(i)</text>

</svg>
</body></html>
